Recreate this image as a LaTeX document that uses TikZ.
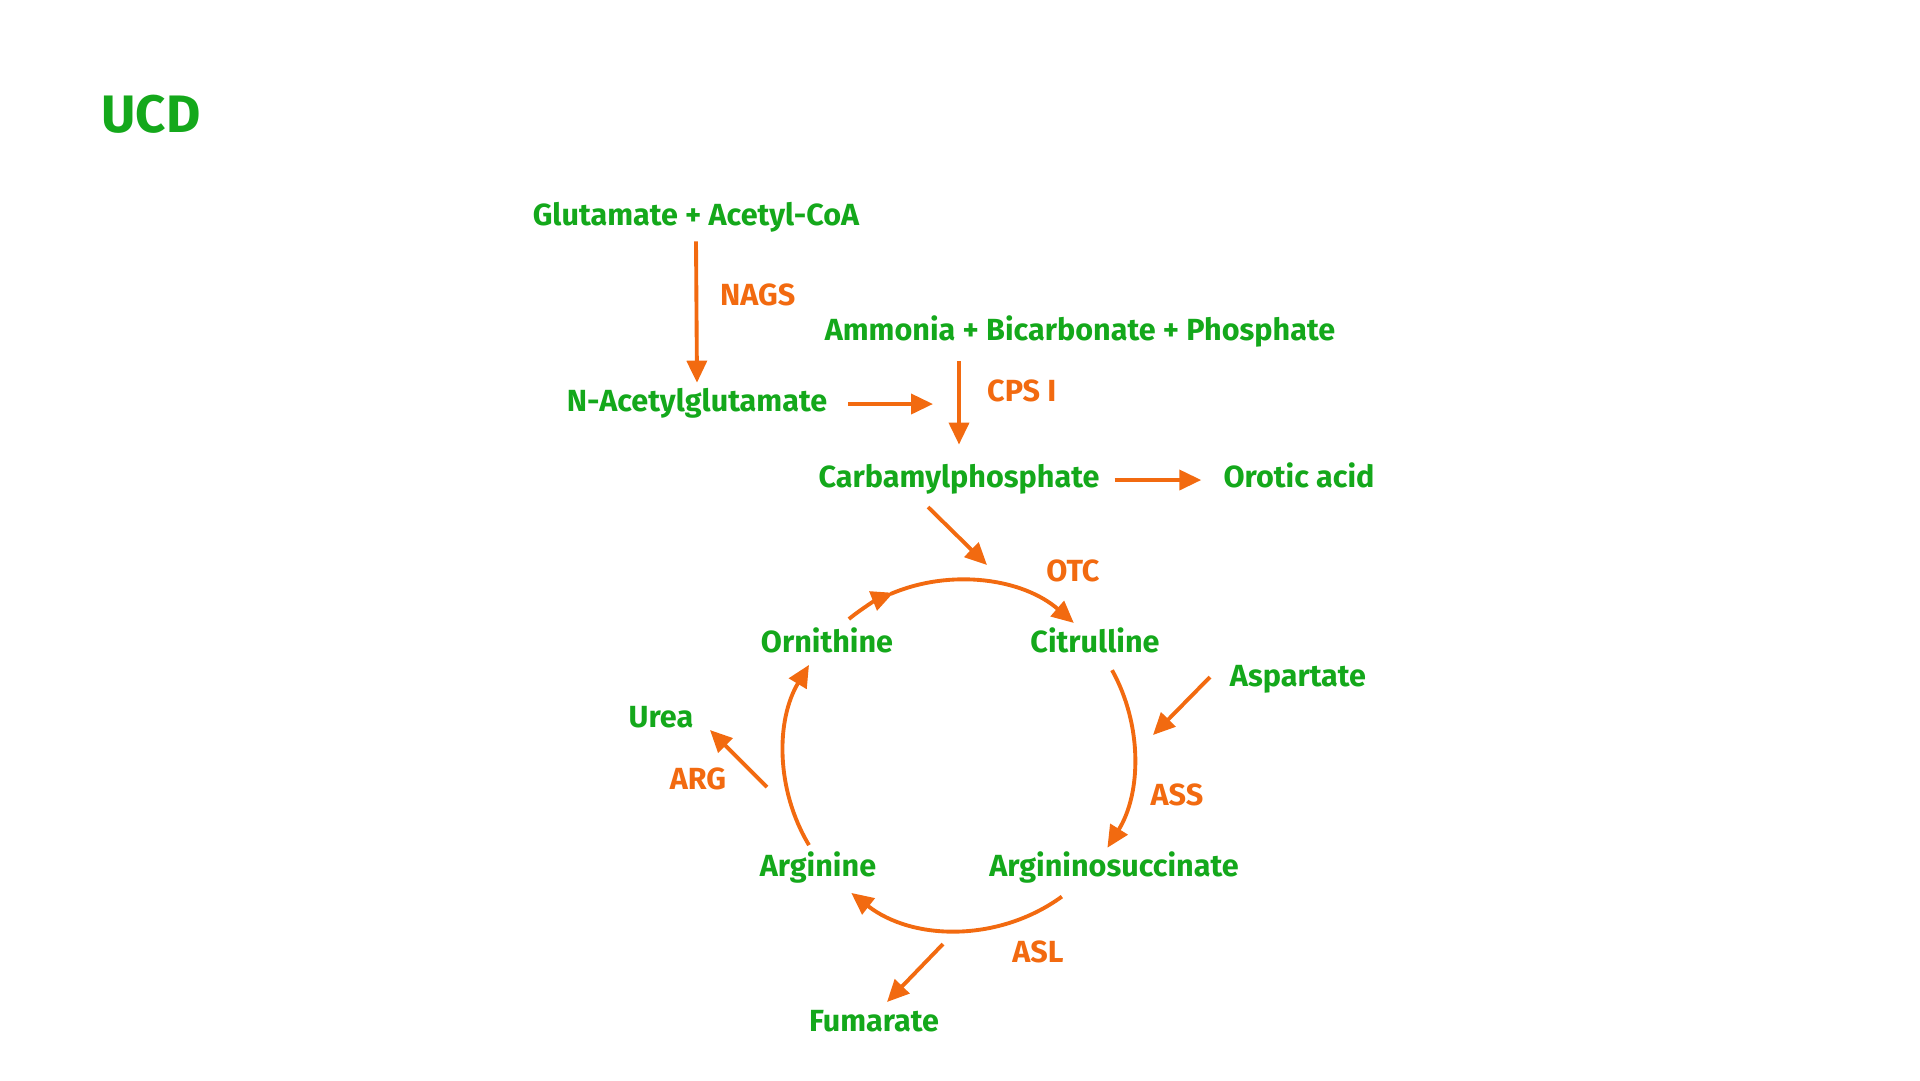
\documentclass[tikz,border=0pt]{standalone}
\usepackage{fontspec}
\setmainfont{Fira Sans}
\usetikzlibrary{arrows.meta, positioning, calc}
\definecolor{cgreen}{HTML}{14A81B}
\definecolor{corange}{HTML}{F26A10}
\tikzset{
  every picture/.style={font=\bfseries},
  chem/.style={text=cgreen, font=\bfseries\fontsize{8.7}{10}\selectfont, inner sep=0.85mm, text height=2.15mm, text depth=0.7mm},
  enz/.style={text=corange, font=\bfseries\fontsize{8.7}{10}\selectfont, inner sep=0.85mm, text height=2.15mm, text depth=0.7mm},
  arrow/.style={-{Triangle[length=2.2mm, width=2mm]}, draw=corange, line width=1.1pt},
  title/.style={text=cgreen, font=\bfseries\fontsize{15}{18}\selectfont},
}
\begin{document}
\begin{tikzpicture}[x=0.1mm, y=-0.1mm]
  \useasboundingbox (0,0) rectangle (1920,1080);
  \node[title] (ucd) at (151,114) {UCD};
  % top of the pathway
  \node[chem] (glu) at (696,218) {Glutamate + Acetyl-CoA};
  \node[enz, anchor=west] (nags) at (711,298) {NAGS};
  \node[chem] (amm) at (1080,333) {Ammonia + Bicarbonate + Phosphate};
  \node[chem] (nag) at (697,404) {N-Acetylglutamate};
  \node[enz, anchor=west] (cps) at (978,394) {CPS I};
  \node[chem] (carb) at (959,480) {Carbamylphosphate};
  \node[chem] (oro) at (1299,480) {Orotic acid};
  \coordinate (nagend) at (933,404);
  \coordinate (otcin) at (987,565);
  \draw[arrow] (glu.south) -- ([yshift=-0.6pt]nag.north);
  \draw[arrow, shorten <=1.2mm] (nag.east) -- (nagend);
  \draw[arrow, shorten <=0.5mm, shorten >=1.2mm] (amm.south -| carb.north) -- (carb.north);
  \draw[arrow, shorten <=0.6mm, shorten >=1.3mm] (carb.east) -- (oro.west);
  \draw[arrow] (928,507) -- (otcin);
  % the cycle
  \coordinate (cyc) at (959,755);
  \node[enz] (otc) at (1073,574) {OTC};
  \node[chem] (orn) at (827,645) {Ornithine};
  \node[chem] (cit) at (1095,645) {Citrulline};
  \node[chem] (asp) at (1298,679) {Aspartate};
  \node[chem] (urea) at (661,720) {Urea};
  \node[enz] (arg) at (698,782) {ARG};
  \node[enz] (ass) at (1177,798) {ASS};
  \node[chem] (argn) at (818,869) {Arginine};
  \node[chem] (asuc) at (1114,869) {Argininosuccinate};
  \node[enz] (asl) at (1038,955) {ASL};
  \node[chem] (fum) at (874,1024) {Fumarate};
  \draw[arrow] ([shift={(-129:175)}]cyc) arc[start angle=-129, end angle=-112, radius=175];
  \draw[arrow] ([shift={(-113:175)}]cyc) arc[start angle=-113, end angle=-49, radius=175];
  \draw[arrow] ([shift={(-29:175)}]cyc) arc[start angle=-29, end angle=32, radius=175];
  \draw[arrow] ([shift={(54:175)}]cyc) arc[start angle=54, end angle=128, radius=175];
  \draw[arrow] ([shift={(149:175)}]cyc) arc[start angle=149, end angle=211, radius=175];
  % side arrows
  \coordinate (aspend) at (1153,735);
  \coordinate (ureast) at (767,787);
  \coordinate (fumst) at (943,944);
  \draw[arrow] (1210,677) -- (aspend);
  \draw[arrow] (ureast) -- (710,730);
  \draw[arrow] (fumst) -- (887,1002);
\end{tikzpicture}
\end{document}
